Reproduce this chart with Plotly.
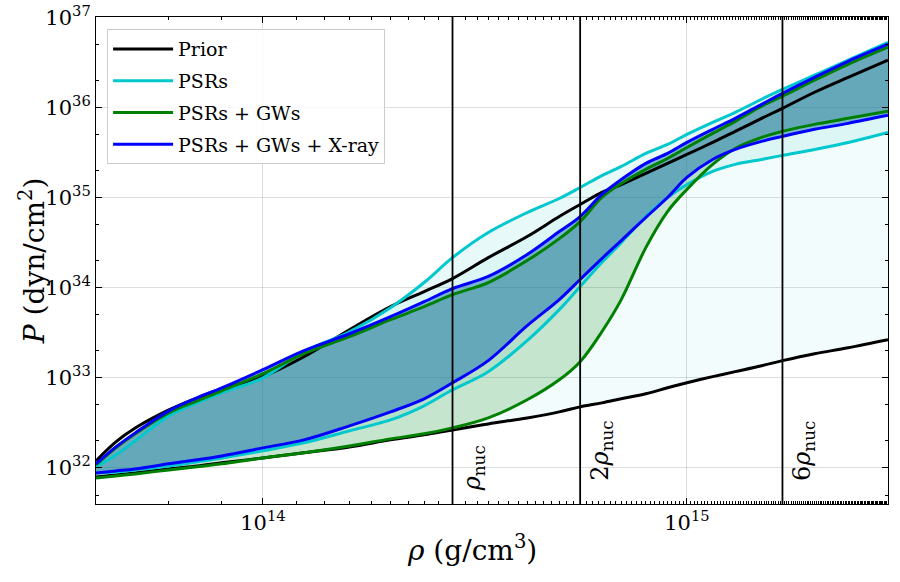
import numpy as np
import plotly.graph_objects as go

# density grid (g/cm^3) and pressure bands (dyn/cm^2)
rho = [4.04e13, 4.5e13, 5e13, 6e13, 7e13, 8e13, 1e14, 1.25e14, 1.6e14, 2e14, 2.4e14, 2.8e14,
       3.4e14, 4.2e14, 5e14, 5.6e14, 6.3e14, 7e14, 8e14, 9e14, 1e15, 1.15e15, 1.3e15, 1.5e15,
       1.68e15, 2e15, 2.4e15, 2.98e15]

prior_hi = [1.20e32, 1.95e32, 2.78e32, 4.41e32, 6.0e32, 7.55e32, 1.03e33, 1.71e33, 3.41e33, 6.15e33,
            9.03e33, 1.26e34, 2.15e34, 3.69e34, 6.15e34, 8.36e34, 1.14e35, 1.39e35, 1.85e35, 2.39e35,
            3.0e35, 4.08e35, 5.41e35, 7.55e35, 9.75e35, 1.47e36, 2.15e36, 3.33e36]
prior_lo = [7.94e31, 8.36e31, 8.8e31, 9.75e31, 1.05e32, 1.14e32, 1.29e32, 1.47e32, 1.71e32, 2.05e32,
            2.33e32, 2.64e32, 3.08e32, 3.59e32, 4.19e32, 4.76e32, 5.27e32, 5.85e32, 6.64e32, 7.74e32,
            8.8e32, 1.03e33, 1.17e33, 1.36e33, 1.55e33, 1.85e33, 2.15e33, 2.64e33]

psr_hi = [1.03e32, 1.39e32, 2.0e32, 3.78e32, 5.27e32, 6.81e32, 1.0e33, 1.95e33, 3.24e33, 6.0e33,
          1.14e34, 2.15e34, 4.08e34, 6.81e34, 9.75e34, 1.29e35, 1.75e35, 2.21e35, 3.08e35, 3.88e35,
          5.01e35, 6.81e35, 8.8e35, 1.23e36, 1.58e36, 2.27e36, 3.33e36, 5.27e36]
psr_lo = [8.8e31, 9.03e31, 9.5e31, 1.05e32, 1.17e32, 1.29e32, 1.55e32, 1.9e32, 2.58e32, 3.41e32,
          4.89e32, 7.36e32, 1.17e33, 2.58e33, 5.7e33, 1.03e34, 1.9e34, 3.16e34, 6.15e34, 1.0e35,
          1.39e35, 1.95e35, 2.33e35, 2.64e35, 2.93e35, 3.41e35, 4.08e35, 5.27e35]

gw_hi = [1.08e32, 1.67e32, 2.39e32, 4.08e32, 5.55e32, 7.18e32, 1.11e33, 1.85e33, 2.86e33, 4.41e33,
         6.15e33, 8.36e33, 1.14e34, 2.0e34, 3.5e34, 5.41e34, 1.0e35, 1.43e35, 2.05e35, 2.71e35,
         3.59e35, 5.14e35, 6.98e35, 1.03e36, 1.33e36, 2.0e36, 3.0e36, 4.64e36]
gw_lo = [7.74e31, 8.15e31, 8.58e31, 9.5e31, 1.03e32, 1.11e32, 1.29e32, 1.47e32, 1.75e32, 2.1e32,
         2.39e32, 2.78e32, 3.59e32, 5.7e32, 9.5e32, 1.51e33, 3.24e33, 7.36e33, 2.78e34, 6.98e34,
         1.23e35, 2.33e35, 3.5e35, 4.64e35, 5.41e35, 6.47e35, 7.55e35, 9.03e35]

xray_hi = [1.11e32, 1.71e32, 2.45e32, 4.3e32, 6.0e32, 7.74e32, 1.23e33, 2.0e33, 3.08e33, 4.76e33,
           6.98e33, 9.75e33, 1.33e34, 2.33e34, 4.19e34, 6.15e34, 1.08e35, 1.58e35, 2.39e35, 3.08e35,
           4.08e35, 5.7e35, 7.55e35, 1.08e36, 1.43e36, 2.15e36, 3.24e36, 5.01e36]
xray_lo = [8.8e31, 9.27e31, 9.75e31, 1.11e32, 1.23e32, 1.36e32, 1.67e32, 2.05e32, 2.93e32, 4.19e32,
           5.85e32, 8.8e32, 1.55e33, 3.78e33, 7.36e33, 1.23e34, 2.1e34, 3.33e34, 6.0e34, 1.0e35,
           1.67e35, 2.64e35, 3.41e35, 4.19e35, 4.76e35, 5.7e35, 6.64e35, 8.15e35]

names = ["Prior", "PSRs", "PSRs + GWs", "PSRs + GWs + X-ray"]

rho_nuc = 2.8e14
nuc_mult = [1, 2, 6]
nuc_labels = ["<i>ρ</i><sub>nuc</sub>", "2<i>ρ</i><sub>nuc</sub>", "6<i>ρ</i><sub>nuc</sub>"]
nuc_label_y = [0.022, 0.043, 0.043]   # paper coords of label bottoms

y_ticks = [1e32, 1e33, 1e34, 1e35, 1e36, 1e37]
y_ticktext = ["10<sup>32</sup>", "10<sup>33</sup>", "10<sup>34</sup>", "10<sup>35</sup>",
              "10<sup>36</sup>", "10<sup>37</sup>"]
x_ticks = [1e14, 1e15]
x_ticktext = ["10<sup>14</sup>", "10<sup>15</sup>"]

line_cols = ["black", "rgb(0,200,205)", "rgb(0,128,0)", "rgb(0,0,255)"]
fill_cols = ["rgba(0,191,191,0.05)", "rgba(0,191,191,0.09)", "rgba(0,128,0,0.18)",
             "rgba(22,112,172,0.5)"]

bands = list(zip(names, [prior_lo, psr_lo, gw_lo, xray_lo], [prior_hi, psr_hi, gw_hi, xray_hi],
                 line_cols, fill_cols))

FONT = "DejaVu Serif"
y_range = [31.6, 37.002]

fig = go.Figure()

# shaded bands first
for name, lo, hi, col, fcol in bands:
    fig.add_trace(go.Scatter(x=rho, y=lo, mode="lines", line=dict(width=0, shape="spline"),
                             showlegend=False, hoverinfo="skip"))
    fig.add_trace(go.Scatter(x=rho, y=hi, mode="lines", line=dict(width=0, shape="spline"),
                             fill="tonexty", fillcolor=fcol, showlegend=False, hoverinfo="skip"))

# boundary curves on top
for name, lo, hi, col, fcol in bands:
    for k, yv in enumerate([hi, lo]):
        fig.add_trace(go.Scatter(x=rho, y=yv, mode="lines", name=name, legendgroup=name,
                                 showlegend=(k == 0),
                                 line=dict(color=col, width=3, shape="spline")))

# nuclear saturation density markers
for m, lab, ly in zip(nuc_mult, nuc_labels, nuc_label_y):
    xv = m * rho_nuc
    fig.add_trace(go.Scatter(x=[xv, xv], y=[10 ** y_range[0], 10 ** y_range[1]], mode="lines",
                             line=dict(color="black", width=1.8), showlegend=False, hoverinfo="skip"))
    fig.add_annotation(x=np.log10(xv), y=ly, xref="x", yref="paper", text=lab, textangle=-90,
                       showarrow=False, xanchor="left", yanchor="bottom", xshift=3,
                       font=dict(family=FONT, size=24, color="black"))

# axis titles
fig.add_annotation(x=0.475, y=-0.092, xref="paper", yref="paper", text="<i>ρ</i> (g/cm<sup>3</sup>)",
                   showarrow=False, xanchor="center", yanchor="middle",
                   font=dict(family=FONT, size=28, color="black"))
fig.add_annotation(x=-0.08, y=0.5, xref="paper", yref="paper", text="<i>P</i> (dyn/cm<sup>2</sup>)",
                   showarrow=False, textangle=-90, xanchor="center", yanchor="middle",
                   font=dict(family=FONT, size=28, color="black"))

axis_common = dict(type="log", showline=True, linecolor="black", linewidth=1, mirror="ticks",
                   ticks="inside", ticklen=6, tickwidth=1, tickcolor="black",
                   showgrid=True, gridcolor="rgba(0,0,0,0.13)", gridwidth=1,
                   minor=dict(ticks="inside", ticklen=3, tickcolor="black", showgrid=False),
                   tickfont=dict(family=FONT, size=21, color="black"), zeroline=False,
                   ticklabeloverflow="allow", automargin=False)

fig.update_xaxes(range=[np.log10(rho[0]), np.log10(rho[-1])], tickvals=x_ticks, ticktext=x_ticktext,
                 **axis_common)
fig.update_yaxes(range=y_range, tickvals=y_ticks, ticktext=y_ticktext, **axis_common)

fig.update_layout(
    width=900, height=582,
    margin=dict(l=96, r=12, t=17, b=78),
    plot_bgcolor="white", paper_bgcolor="white",
    font=dict(family=FONT, color="black"),
    legend=dict(x=0.014, y=0.975, xanchor="left", yanchor="top", traceorder="grouped",
                tracegroupgap=4, itemwidth=60,
                bgcolor="rgba(255,255,255,0.85)", bordercolor="#cccccc", borderwidth=1,
                font=dict(family=FONT, size=19, color="black")),
)

# drop the default body margin so the 900x582 figure sits flush in the window
fig.write_html("out.html", config={"displayModeBar": False},
               post_script="document.body.style.margin='0px';")
